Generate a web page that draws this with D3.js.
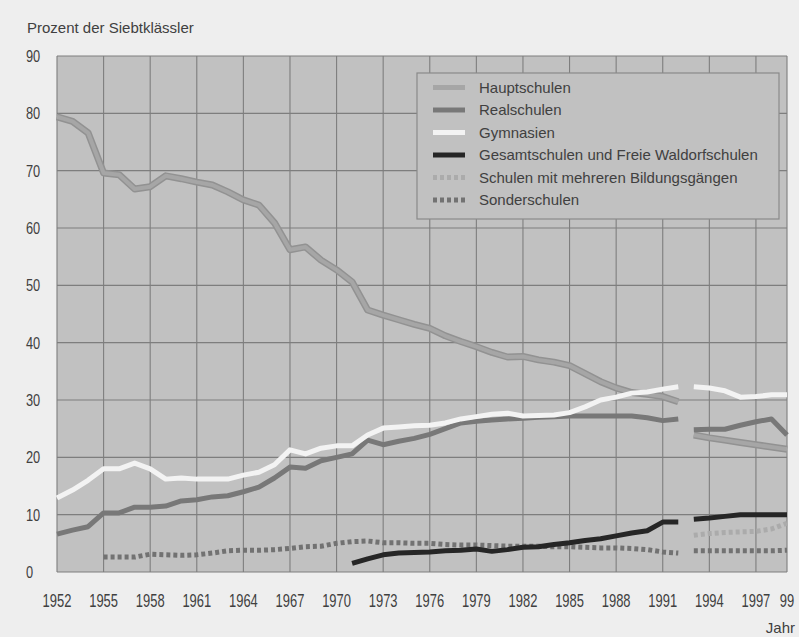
<!DOCTYPE html>
<html lang="de">
<head>
<meta charset="utf-8">
<script src="https://d3js.org/d3.v7.min.js"></script>
<style>
  html, body { margin: 0; padding: 0; background: #eeeeee; }
  svg { display: block; }
  .lbl  { font-family: "Liberation Sans", Arial, sans-serif; fill: #404040; }
  .tick { font-family: "Liberation Sans", Arial, sans-serif; fill: #404040; }
</style>
</head>
<body>
<div id="chart"></div>
<script>
/* ============================================================
   DATA — Prozent der Siebtklässler nach Schulart
   Break in 1992/1993 (new series after reunification)
   ============================================================ */

const yearsA = [1952,1953,1954,1955,1956,1957,1958,1959,1960,1961,
                1962,1963,1964,1965,1966,1967,1968,1969,1970,1971,
                1972,1973,1974,1975,1976,1977,1978,1979,1980,1981,
                1982,1983,1984,1985,1986,1987,1988,1989,1990,1991,1992];
const yearsB = [1993,1994,1995,1996,1997,1998,1999];

const yearsGesamtA = [1971,1972,1973,1974,1975,1976,1977,1978,1979,1980,1981,
                      1982,1983,1984,1985,1986,1987,1988,1989,1990,1991,1992];
const yearsSonderA = [1955,1956,1957,1958,1959,1960,1961,1962,1963,1964,
                      1965,1966,1967,1968,1969,1970,1971,1972,1973,1974,
                      1975,1976,1977,1978,1979,1980,1981,1982,1983,1984,
                      1985,1986,1987,1988,1989,1990,1991,1992];

const hauptA = [79.4,78.6,76.6,69.6,69.3,66.8,67.2,69.1,68.6,68.0,
                67.5,66.3,64.9,64.0,60.9,56.2,56.7,54.4,52.7,50.6,
                45.7,44.8,44.0,43.2,42.5,41.2,40.2,39.3,38.3,37.5,
                37.6,37.0,36.6,36.0,34.6,33.2,32.1,31.3,31.0,30.6,29.7];
const hauptB = [23.9,23.4,23.0,22.6,22.2,21.8,21.4];

const realA  = [6.6,7.3,7.9,10.3,10.3,11.3,11.3,11.5,12.4,12.6,
                13.1,13.3,14.0,14.8,16.4,18.3,18.1,19.4,20.0,20.6,
                23.0,22.2,22.8,23.3,24.0,25.0,26.0,26.3,26.5,26.7,
                26.8,27.0,27.1,27.2,27.2,27.2,27.2,27.2,26.9,26.4,26.7];
const realB  = [24.8,24.9,24.9,25.6,26.2,26.7,23.9];

const gymA   = [12.9,14.3,16.0,18.0,18.0,19.0,18.0,16.2,16.4,16.2,
                16.2,16.2,16.9,17.4,18.7,21.3,20.6,21.6,22.0,22.0,
                23.9,25.1,25.3,25.5,25.6,26.0,26.7,27.1,27.5,27.7,
                27.2,27.3,27.4,27.8,28.8,30.0,30.5,31.2,31.4,31.9,32.3];
const gymB   = [32.3,32.1,31.6,30.5,30.6,30.9,30.9];

const gesamtA = [1.5,2.3,3.0,3.3,3.4,3.5,3.7,3.8,4.0,3.6,3.9,
                 4.3,4.4,4.8,5.1,5.5,5.8,6.3,6.8,7.2,8.7,8.7];
const gesamtB = [9.2,9.4,9.7,10.0,10.0,10.0,10.0];

const mehrB   = [6.4,6.7,6.9,7.0,7.1,7.5,8.5];

const sonderA = [2.6,2.6,2.6,3.1,3.0,2.9,3.0,3.3,3.7,3.8,
                 3.8,3.9,4.1,4.4,4.5,5.0,5.3,5.4,5.1,5.1,
                 5.0,5.0,4.8,4.7,4.7,4.6,4.5,4.5,4.5,4.4,
                 4.4,4.3,4.2,4.2,4.1,3.9,3.5,3.3];
const sonderB = [3.7,3.7,3.7,3.7,3.7,3.7,3.8];

const legendLabels = [
  'Hauptschulen',
  'Realschulen',
  'Gymnasien',
  'Gesamtschulen und Freie Waldorfschulen',
  'Schulen mit mehreren Bildungsgängen',
  'Sonderschulen',
];

const xTickYears  = [1952,1955,1958,1961,1964,1967,1970,1973,1976,1979,1982,1985,1988,1991,1994,1997,1999];
const xTickLabels = ['1952','1955','1958','1961','1964','1967','1970','1973','1976','1979','1982','1985','1988','1991','1994','1997','99'];
const xGridYears  = [1952,1955,1958,1961,1964,1967,1970,1973,1976,1979,1982,1985,1988,1991,1994,1997,1999];
const yTicks      = [0,10,20,30,40,50,60,70,80,90];


/* ============================================================
   CONFIGURATION
   ============================================================ */

const W = 799, H = 637;
const PLOT = { left: 57, right: 787, top: 56, bottom: 572 };

// no condensed face installed: squeeze the regular one horizontally
const TICK_SQUEEZE_X = 0.74;
const TICK_SQUEEZE_Y = 0.8;

const COLORS = {
  page:  '#eeeeee',
  plot:  '#c1c1c1',
  grid:  '#7e7e7e',
  haupt: '#a6a6a6', hauptEdge: '#929292',
  real:  '#787878',
  gym:   '#f3f3f3',
  gesamt:'#262626',
  mehr:  '#ababab',
  sonder:'#727272',
};

function zip(xs, ys) { return xs.map((x, i) => ({ x, y: ys[i] })); }

// one entry per legend row, each with one or two drawn segments
const series = [
  { key: 'haupt',  color: COLORS.haupt,  width: 5.5, dash: null, edge: COLORS.hauptEdge,
    segs: [zip(yearsA, hauptA), zip(yearsB, hauptB)] },
  { key: 'real',   color: COLORS.real,   width: 5,   dash: null,
    segs: [zip(yearsA, realA), zip(yearsB, realB)] },
  { key: 'gym',    color: COLORS.gym,    width: 5,   dash: null,
    segs: [zip(yearsA, gymA), zip(yearsB, gymB)] },
  { key: 'gesamt', color: COLORS.gesamt, width: 5,   dash: null,
    segs: [zip(yearsGesamtA, gesamtA), zip(yearsB, gesamtB)] },
  { key: 'mehr',   color: COLORS.mehr,   width: 5,   dash: '4,3',
    segs: [zip(yearsB, mehrB)] },
  { key: 'sonder', color: COLORS.sonder, width: 5,   dash: '4,3',
    segs: [zip(yearsSonderA, sonderA), zip(yearsB, sonderB)] },
];

// draw order: dotted & dark lines under the light ones like the print
const drawOrder = ['sonder', 'mehr', 'gesamt', 'haupt', 'real', 'gym'];


/* ============================================================
   DRAW
   ============================================================ */

const x = d3.scaleLinear().domain([1952, 1999]).range([PLOT.left, PLOT.right]);
const y = d3.scaleLinear().domain([0, 90]).range([PLOT.bottom, PLOT.top]);

const svg = d3.select('#chart').append('svg')
  .attr('width', W).attr('height', H);

svg.append('rect').attr('width', W).attr('height', H).attr('fill', COLORS.page);

/* Plot background */
svg.append('rect')
  .attr('x', PLOT.left).attr('y', PLOT.top)
  .attr('width', PLOT.right - PLOT.left).attr('height', PLOT.bottom - PLOT.top)
  .attr('fill', COLORS.plot);

/* Grid */
const grid = svg.append('g').attr('stroke', COLORS.grid).attr('stroke-width', 1.1);
grid.selectAll('line.h').data(yTicks).join('line')
  .attr('x1', PLOT.left).attr('x2', PLOT.right)
  .attr('y1', d => y(d)).attr('y2', d => y(d));
grid.selectAll('line.v').data(xGridYears).join('line')
  .attr('y1', PLOT.top).attr('y2', PLOT.bottom)
  .attr('x1', d => x(d)).attr('x2', d => x(d));

/* Axis labels (squeezed) */
svg.append('g').selectAll('text').data(yTicks).join('text')
  .attr('class', 'tick')
  .attr('transform', d => `translate(26, ${y(d) + 6}) scale(${TICK_SQUEEZE_Y}, 1)`)
  .attr('font-size', 16)
  .text(d => d);

svg.append('g').selectAll('text').data(xTickYears).join('text')
  .attr('class', 'tick')
  .attr('transform', d => `translate(${x(d)}, 607) scale(${TICK_SQUEEZE_X}, 1)`)
  .attr('text-anchor', 'middle')
  .attr('font-size', 17.5)
  .text((d, i) => xTickLabels[i]);

svg.append('text').attr('class', 'lbl')
  .attr('x', 27).attr('y', 33).attr('font-size', 15)
  .text('Prozent der Siebtklässler');

svg.append('text').attr('class', 'lbl')
  .attr('x', 795).attr('y', 633).attr('font-size', 15)
  .attr('text-anchor', 'end')
  .text('Jahr');

/* Lines */
const line = d3.line().x(d => x(d.x)).y(d => y(d.y));
const lines = svg.append('g').attr('fill', 'none');

drawOrder.forEach(key => {
  const s = series.find(d => d.key === key);
  s.segs.forEach(seg => {
    if (s.edge) {
      lines.append('path').attr('d', line(seg))
        .attr('stroke', s.edge).attr('stroke-width', s.width + 1.5)
        .attr('stroke-linejoin', 'round');
    }
    lines.append('path').attr('d', line(seg))
      .attr('stroke', s.color)
      .attr('stroke-width', s.edge ? s.width - 1.5 : s.width)
      .attr('stroke-dasharray', s.dash)
      .attr('stroke-linejoin', 'round');
  });
});

/* Legend */
const LEG = { x: 417, y: 73, w: 362, h: 146, rowH: 22.5 };
const legend = svg.append('g');
legend.append('rect')
  .attr('x', LEG.x).attr('y', LEG.y).attr('width', LEG.w).attr('height', LEG.h)
  .attr('fill', COLORS.plot).attr('stroke', '#8a8a8a').attr('stroke-width', 1.2);

const rows = legend.selectAll('g.row').data(series).join('g')
  .attr('transform', (d, i) => `translate(${LEG.x}, ${LEG.y + 14.5 + i * LEG.rowH})`);

rows.append('line')
  .attr('x1', 16).attr('x2', 48).attr('y1', 0).attr('y2', 0)
  .attr('stroke', d => d.key === 'haupt' ? COLORS.haupt : d.color)
  .attr('stroke-width', 5)
  .attr('stroke-dasharray', d => d.dash);

rows.append('text').attr('class', 'lbl')
  .attr('x', 62).attr('y', 5).attr('font-size', 15)
  .text((d, i) => legendLabels[i]);
</script>
</body>
</html>
